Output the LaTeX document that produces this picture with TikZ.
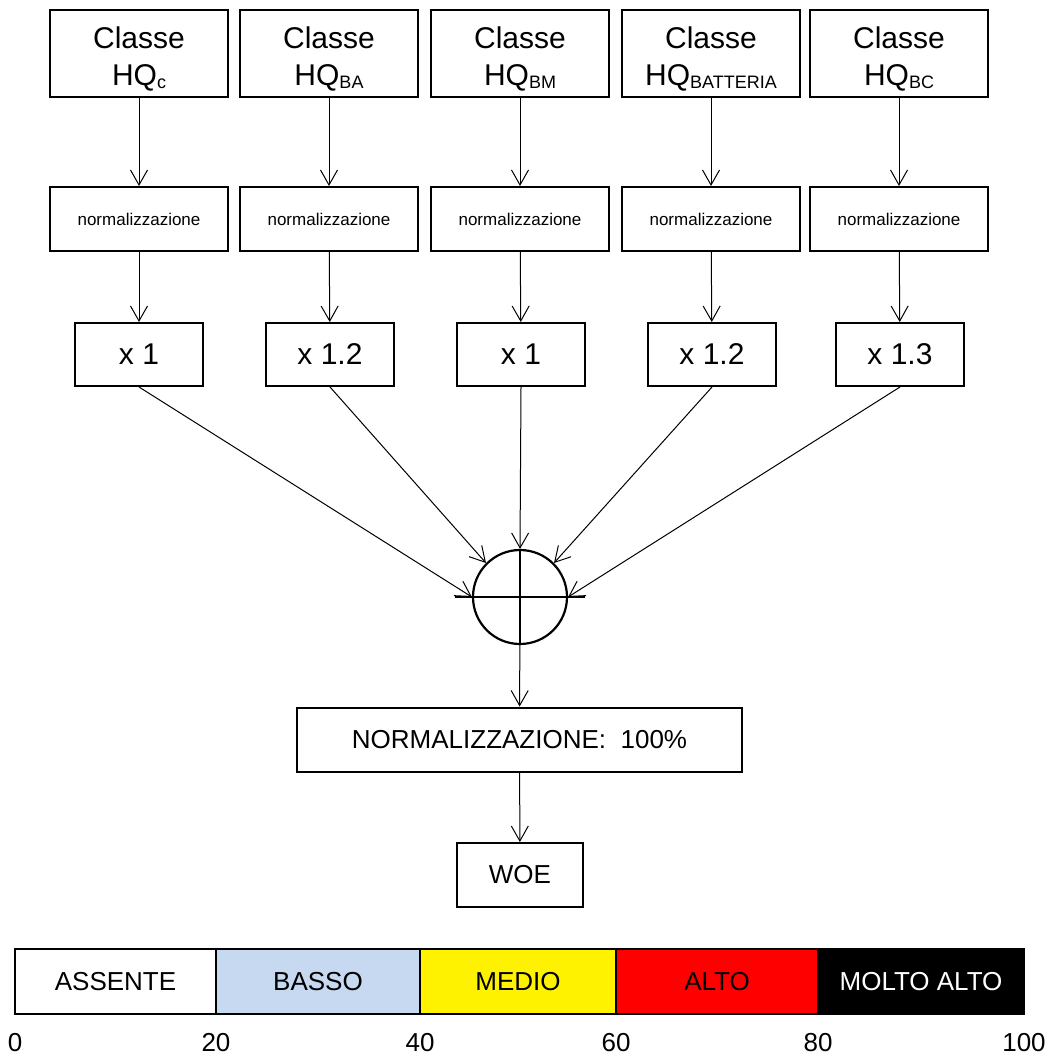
\documentclass[tikz,border=0pt]{standalone}
\usepackage{fontspec}
\setmainfont{Liberation Sans}
\usepackage{xcolor}
\usetikzlibrary{arrows.meta}
\definecolor{basso}{RGB}{198,217,241}
\tikzstyle{classe} = [draw, line width=1pt, minimum width=89pt, minimum height=43.5pt, inner sep=0pt, align=center, font=\fontsize{15}{18.5}\selectfont]
\tikzstyle{norm} = [draw, line width=1pt, minimum width=89pt, minimum height=32pt, inner sep=0pt, font=\fontsize{8.5}{10}\selectfont]
\tikzstyle{peso} = [draw, line width=1pt, minimum width=64pt, minimum height=31.5pt, inner sep=0pt, font=\fontsize{15}{18}\selectfont]
\tikzstyle{largo} = [draw, line width=1pt, minimum height=32pt, inner sep=0pt, font=\fontsize{13}{16}\selectfont]
\tikzstyle{somma} = [draw, circle, line width=1.1pt, minimum size=47pt, inner sep=0pt]
\tikzstyle{arr} = [-{Straight Barb[length=7.5pt,width=8.5pt]}, line width=0.5pt]
\tikzstyle{livello} = [draw, line width=1pt, minimum height=32.5pt, inner sep=0pt, font=\fontsize{13}{16}\selectfont]
\tikzstyle{tacca} = [inner sep=0pt, font=\fontsize{13}{16}\selectfont]
\newcommand{\alzo}{\rule{0pt}{16.7pt}}
\newcommand{\pedice}[1]{\raisebox{-1.5pt}{\fontsize{9}{10}\selectfont #1}}

\begin{document}
\begin{tikzpicture}[x=0.5pt, y=-0.5pt]
\useasboundingbox (0,0) rectangle (1054,1059);

\node[classe] (c1) at (139,53.5) {\alzo Classe\\HQ\pedice{c}};
\node[classe] (c2) at (329,53.5) {\alzo Classe\\HQ\pedice{BA}};
\node[classe] (c3) at (520,53.5) {\alzo Classe\\HQ\pedice{BM}};
\node[classe] (c4) at (711,53.5) {\alzo Classe\\HQ\pedice{BATTERIA}};
\node[classe] (c5) at (899,53.5) {\alzo Classe\\HQ\pedice{BC}};

\node[norm] (n1) at (139,219) {normalizzazione};
\node[norm] (n2) at (329,219) {normalizzazione};
\node[norm] (n3) at (520,219) {normalizzazione};
\node[norm] (n4) at (711,219) {normalizzazione};
\node[norm] (n5) at (899,219) {normalizzazione};

\node[peso] (p1) at (139,354.5) {x 1};
\node[peso] (p2) at (330,354.5) {x 1.2};
\node[peso] (p3) at (521,354.5) {x 1};
\node[peso] (p4) at (712,354.5) {x 1.2};
\node[peso] (p5) at (900,354.5) {x 1.3};

\node[somma] (sum) at (520,597) {};
\node[largo, minimum width=222.5pt] (tot) at (519.5,739.5) {NORMALIZZAZIONE:\ \ 100\%};
\node[largo, minimum width=63pt] (woe) at (520,875) {WOE};

\draw[arr] (c1) -- (n1);
\draw[arr] (c2) -- (n2);
\draw[arr] (c3) -- (n3);
\draw[arr] (c4) -- (n4);
\draw[arr] (c5) -- (n5);
\draw[arr] (n1) -- (p1);
\draw[arr] (n2) -- (p2);
\draw[arr] (n3) -- (p3);
\draw[arr] (n4) -- (p4);
\draw[arr] (n5) -- (p5);

\draw[arr] (p1.south) -- (sum.west);
\draw[arr] (p2.south) -- (sum.north west);
\draw[arr] (p3.south) -- (sum.north);
\draw[arr] (p4.south) -- (sum.north east);
\draw[arr] (p5.south) -- (sum.east);
\draw[line width=1.1pt] ([xshift=-8.5pt]sum.west) -- ([xshift=8.5pt]sum.east);
\draw[line width=1.1pt] (sum.north) -- (sum.south);

\draw[arr] (sum) -- (tot);
\draw[arr] (tot) -- (woe);

\node[livello, fill=white, minimum width=100.5pt] (l1) at (115.5,981.5) {ASSENTE};
\node[livello, fill=basso, minimum width=102pt] (l2) at (318,981.5) {BASSO};
\node[livello, fill=yellow, minimum width=98pt] (l3) at (518,981.5) {MEDIO};
\node[livello, fill=red, minimum width=101pt] (l4) at (717,981.5) {ALTO};
\node[livello, fill=black, text=white, minimum width=103pt] (l5) at (921,981.5) {MOLTO ALTO};

\node[tacca] (t0) at (15,1043) {0};
\node[tacca] (t20) at (216,1043) {20};
\node[tacca] (t40) at (420,1043) {40};
\node[tacca] (t60) at (616,1043) {60};
\node[tacca] (t80) at (818,1043) {80};
\node[tacca] (t100) at (1024,1043) {100};
\end{tikzpicture}
\end{document}
